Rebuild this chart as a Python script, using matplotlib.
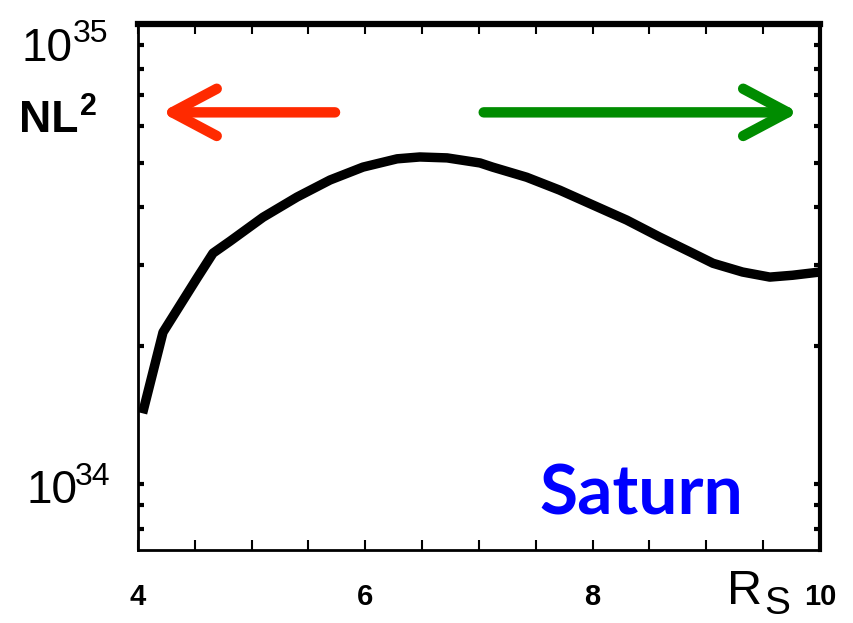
import numpy as np
import matplotlib.pyplot as plt
from matplotlib.ticker import LogLocator, MultipleLocator, NullFormatter

plt.rcParams['font.family'] = ['Liberation Sans', 'DejaVu Sans']

# NL^2 profile vs distance (Saturn radii)
r_s = [4.04, 4.22, 4.37, 4.52, 4.66, 4.81, 5.10, 5.40, 5.69, 5.98, 6.28, 6.48,
       6.72, 7.01, 7.12, 7.42, 7.71, 8.00, 8.30, 8.59, 8.88, 9.06, 9.32, 9.56,
       9.76, 10.0]
log_nl2 = [34.154, 34.330, 34.389, 34.448, 34.502, 34.528, 34.580, 34.624,
           34.661, 34.689, 34.707, 34.711, 34.709, 34.698, 34.689, 34.667,
           34.639, 34.607, 34.574, 34.537, 34.502, 34.480, 34.461, 34.450,
           34.454, 34.461]
nl2 = [10 ** v for v in log_nl2]

x_ticks = [4, 6, 8, 10]
x_labels = ['4', '6', '8', '10']

fig = plt.figure(figsize=(8.54, 6.23), dpi=100)
ax = fig.add_axes([0.1616, 0.1172, 0.7984, 0.8443])

ax.plot(r_s, nl2, color='black', lw=6.8, solid_capstyle='butt', solid_joinstyle='round')
ax.set_yscale('log')
ax.set_xlim(4, 10)
ax.set_ylim(10 ** 33.857, 1e35)

ax.set_xticks(x_ticks)
ax.set_xticklabels(x_labels, fontweight='bold', fontsize=21)
ax.xaxis.set_minor_locator(MultipleLocator(0.5))
ax.tick_params(axis='x', which='both', direction='in', top=True, bottom=True,
               length=7, width=1.5, pad=24)
ax.yaxis.set_major_locator(LogLocator(base=10))
ax.yaxis.set_minor_locator(LogLocator(base=10, subs=np.arange(2, 10)))
ax.yaxis.set_major_formatter(NullFormatter())
ax.yaxis.set_minor_formatter(NullFormatter())
ax.tick_params(axis='y', which='both', direction='in', left=True, right=True,
               length=4, width=3)

ax.spines['top'].set_linewidth(4.5)
ax.spines['right'].set_linewidth(3)
ax.spines['left'].set_linewidth(2)
ax.spines['bottom'].set_linewidth(2)

# arrows
head = '->,head_length=3.2,head_width=1.7'
ax.annotate('', xy=(0.034, 0.832), xytext=(0.289, 0.832), xycoords='axes fraction',
            arrowprops=dict(arrowstyle=head, color='#ff2a00', lw=7.5, capstyle='round',
                            joinstyle='round', shrinkA=0, shrinkB=0))
ax.annotate('', xy=(0.969, 0.832), xytext=(0.507, 0.832), xycoords='axes fraction',
            arrowprops=dict(arrowstyle=head, color='#008c00', lw=7.5, capstyle='round',
                            joinstyle='round', shrinkA=0, shrinkB=0))

# labels
fig.text(0.025, 0.922, '10', fontsize=33, va='center', ha='left')
fig.text(0.085, 0.945, '35', fontsize=23, va='center', ha='left')
fig.text(0.031, 0.212, '10', fontsize=33, va='center', ha='left')
fig.text(0.088, 0.235, '34', fontsize=23, va='center', ha='left')
fig.text(0.022, 0.806, 'NL', fontsize=32, fontweight='bold', va='center', ha='left')
fig.text(0.094, 0.828, '2', fontsize=22, fontweight='bold', va='center', ha='left')
fig.text(0.851, 0.050, 'R', fontsize=35, va='center', ha='left')
fig.text(0.895, 0.030, 'S', fontsize=28, va='center', ha='left')
fig.text(0.632, 0.205, 'Saturn', fontsize=50, fontweight='bold', color='#0000ff',
         family='Lato', va='center', ha='left')

fig.savefig('out.png', dpi=100)
